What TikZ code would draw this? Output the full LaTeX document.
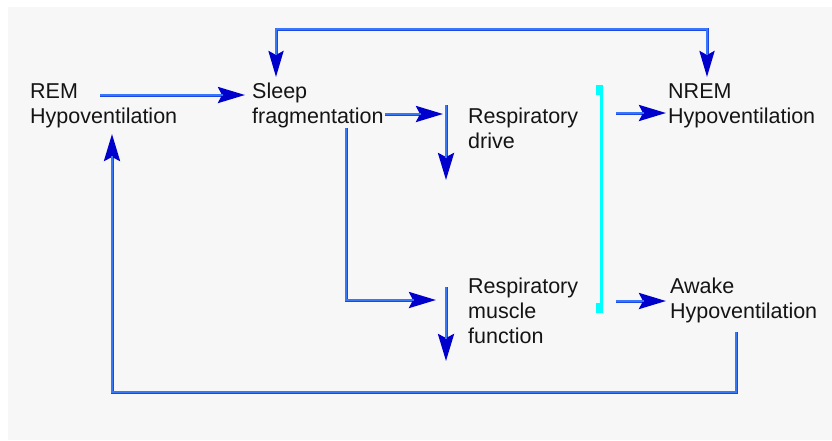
\documentclass[tikz,border=0pt]{standalone}
\usepackage{fontspec}
\setmainfont{Liberation Sans}
\usetikzlibrary{arrows.meta}
\definecolor{linecol}{RGB}{30,70,225}
\definecolor{innercol}{RGB}{55,120,250}
\definecolor{headcol}{RGB}{0,0,205}
\definecolor{bgcol}{RGB}{247,247,247}
\definecolor{brcol}{RGB}{0,255,255}
\begin{document}
\begin{tikzpicture}[x=1pt,y=-1pt,
  lbl/.style={anchor=base west, inner sep=0pt, align=left, font=\fontsize{21.5}{24.7}\selectfont, text=black!92},
  conn/.style={draw=linecol, line width=3pt, -{Stealth[length=27pt,width=16pt,inset=4pt,color=headcol]},
    postaction={draw=innercol, line width=1.2pt, -, shorten >=22pt}},
  twoway/.style={draw=linecol, line width=3pt, {Stealth[length=26pt,width=15pt,inset=4pt,color=headcol]}-{Stealth[length=26pt,width=15pt,inset=4pt,color=headcol]},
    postaction={draw=innercol, line width=1.2pt, -, shorten >=22pt, shorten <=22pt}},
]
\useasboundingbox (0,0) rectangle (832,440);
\fill[bgcol] (8,7) rectangle (832,440);

% labels (anchor = baseline of last line)
\node[lbl] (rem)    at (30,123)  {REM\\Hypoventilation};
\node[lbl] (sleep)  at (252,123) {Sleep\\fragmentation};
\node[lbl] (drive)  at (468,148) {Respiratory\\drive};
\node[lbl] (nrem)   at (668,123) {NREM\\Hypoventilation};
\node[lbl] (muscle) at (468,343) {Respiratory\\muscle\\function};
\node[lbl] (awake)  at (670,318) {Awake\\Hypoventilation};

% connector end points
\coordinate (remOut)    at (100,95);
\coordinate (sleepIn)   at (245,95);
\coordinate (sleepTop)  at (276,77);
\coordinate (nremTop)   at (707,77);
\coordinate (sleepOut)  at (385,114);
\coordinate (driveIn)   at (443,114);
\coordinate (driveA)    at (446,105);
\coordinate (driveB)    at (446,180);
\coordinate (sleepDown) at (346,128);
\coordinate (muscleIn)  at (436,300);
\coordinate (muscleA)   at (446,287);
\coordinate (muscleB)   at (446,361);
\coordinate (nremSrc)   at (616,113);
\coordinate (nremIn)    at (666,113);
\coordinate (awakeSrc)  at (616,301);
\coordinate (awakeIn)   at (666,301);
\coordinate (awakeOut)  at (736,332);
\coordinate (remIn)     at (112,134);

% connectors
\draw[conn] (remOut) -- (sleepIn);
\draw[twoway] (sleepTop) -- (276,29) -- (707,29) -- (nremTop);
\draw[conn] (sleepOut) -- (driveIn);
\draw[conn] (driveA) -- (driveB);
\draw[conn] (sleepDown) |- (muscleIn);
\draw[conn] (muscleA) -- (muscleB);
\draw[conn] (nremSrc) -- (nremIn);
\draw[conn] (awakeSrc) -- (awakeIn);
\draw[conn] (awakeOut) -- (736,392) -- (112,392) -- (remIn);

% cyan bracket
\draw[brcol, line width=3pt] (601.5,86) -- (601.5,313);
\fill[brcol] (596,85) rectangle (603,95);
\fill[brcol] (596,303) rectangle (603,313);
\end{tikzpicture}
\end{document}
